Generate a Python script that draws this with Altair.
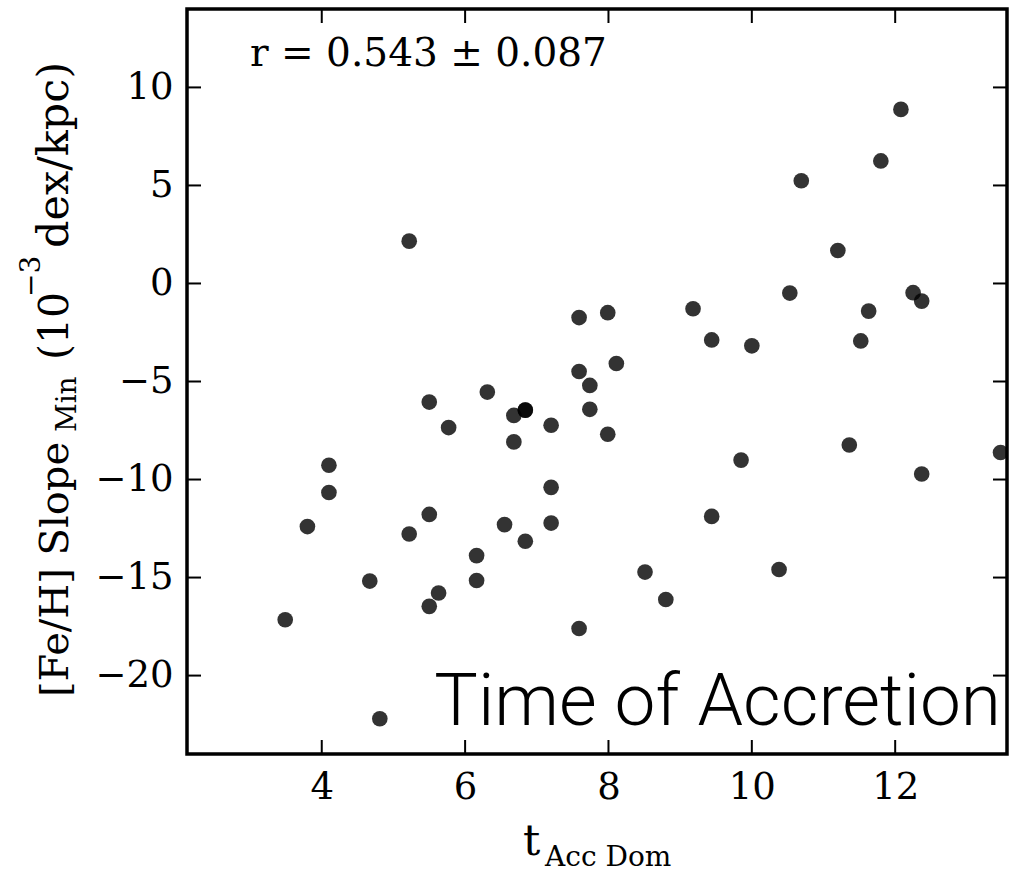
import altair as alt
import pandas as pd

# ---- data ----
t_acc = [5.22, 7.59, 7.99, 9.18, 9.44, 8.11, 7.59, 12.08, 11.80, 10.69, 11.20, 10.53,
         12.25, 12.37, 11.63, 11.52, 10.00, 5.50, 5.77, 4.10, 4.10, 3.80, 5.50, 5.22,
         4.67, 5.63, 5.50, 3.49, 4.81, 6.31, 7.74, 7.74, 6.68, 6.84, 6.84, 7.20, 7.99,
         6.68, 7.20, 7.20, 6.55, 6.84, 6.16, 6.16, 8.51, 8.80, 7.59, 9.44, 9.85, 11.36,
         12.37, 13.47, 10.38]
slope = [2.16, -1.74, -1.49, -1.29, -2.88, -4.08, -4.49, 8.88, 6.25, 5.24, 1.68, -0.49,
         -0.47, -0.90, -1.41, -2.93, -3.18, -6.05, -7.35, -9.27, -10.66, -12.40, -11.78,
         -12.78, -15.18, -15.79, -16.47, -17.15, -22.20, -5.54, -5.20, -6.42, -6.73, -6.46,
         -6.46, -7.23, -7.69, -8.08, -10.40, -12.22, -12.30, -13.15, -13.88, -15.15, -14.72,
         -16.12, -17.60, -11.88, -9.01, -8.24, -9.72, -8.62, -14.59]

x_ticks = [4, 6, 8, 10, 12]
y_ticks = [-20, -15, -10, -5, 0, 5, 10]
x_domain = [2.12, 13.56]
y_domain = [-24, 14]

annotation = "r = 0.543 \u00b1 0.087"
stamp = "Time of Accretion"
y_title_parts = ["[Fe/H] Slope", "Min", "(10", "\u22123", "dex/kpc)"]
x_title_parts = ["t", "Acc Dom"]

W, H = 820, 745
SERIF = "DejaVu Serif"
TL = 14  # inward tick length

df = pd.DataFrame({"t": t_acc, "s": slope})
xt = pd.DataFrame({"t": x_ticks})
yt = pd.DataFrame({"s": y_ticks})

xs = alt.Scale(domain=x_domain, nice=False, zero=False)
ys = alt.Scale(domain=y_domain, nice=False, zero=False)

x_axis = alt.Axis(values=x_ticks, ticks=False, tickSize=0, domain=False, grid=False,
                  title=None, labelFont=SERIF, labelFontSize=37, labelPadding=15,
                  labelColor="black")
y_axis = alt.Axis(values=y_ticks, ticks=False, tickSize=0, domain=False, grid=False,
                  title=None, labelFont=SERIF, labelFontSize=37, labelPadding=14,
                  labelColor="black")

X = alt.X("t:Q", scale=xs, axis=x_axis)
Y = alt.Y("s:Q", scale=ys, axis=y_axis)

points = alt.Chart(df).mark_circle(size=245, color="black", opacity=0.8, clip=True).encode(
    x=X, y=Y)

rule_style = dict(color="black", strokeWidth=2)
bottom = alt.Chart(xt).mark_rule(**rule_style).encode(
    x=X, y=alt.value(H), y2=alt.value(H - TL))
top = alt.Chart(xt).mark_rule(**rule_style).encode(
    x=X, y=alt.value(0), y2=alt.value(TL))
left = alt.Chart(yt).mark_rule(**rule_style).encode(
    y=Y, x=alt.value(0), x2=alt.value(TL))
right = alt.Chart(yt).mark_rule(**rule_style).encode(
    y=Y, x=alt.value(W), x2=alt.value(W - TL))


def label(txt, x, y, size, angle=0, align="left", font=SERIF, weight="normal"):
    return alt.Chart(pd.DataFrame({"txt": [txt]})).mark_text(
        align=align, baseline="alphabetic", angle=angle, font=font,
        fontSize=size, fontWeight=weight, color="black").encode(
        text="txt:N", x=alt.value(x), y=alt.value(y))


texts = [
    label(annotation, 63, 57, 39),
    label(stamp, 814, 716, 73, align="right", font="Roboto", weight=300),
    # x title: t_{Acc Dom}
    label(x_title_parts[0], 336, 846, 43),
    label(x_title_parts[1], 358, 857, 28),
    # y title pieces (rotated)
    label(y_title_parts[0], -119, 688, 40, angle=270),
    label(y_title_parts[1], -111, 423, 28, angle=270),
    label(y_title_parts[2], -119, 351, 41, angle=270),
    label(y_title_parts[3], -147, 288, 28, angle=270),
    label(y_title_parts[4], -119, 239, 43, angle=270),
]

chart = alt.layer(points, bottom, top, left, right, *texts).properties(
    width=W, height=H,
    autosize=alt.AutoSizeParams(type="none"),
    padding={"left": 187, "top": 9, "right": 7, "bottom": 118},
    background="white",
).configure_view(stroke="black", strokeWidth=3.5)

chart.save("out.html", embed_options={"renderer": "svg", "actions": False})
